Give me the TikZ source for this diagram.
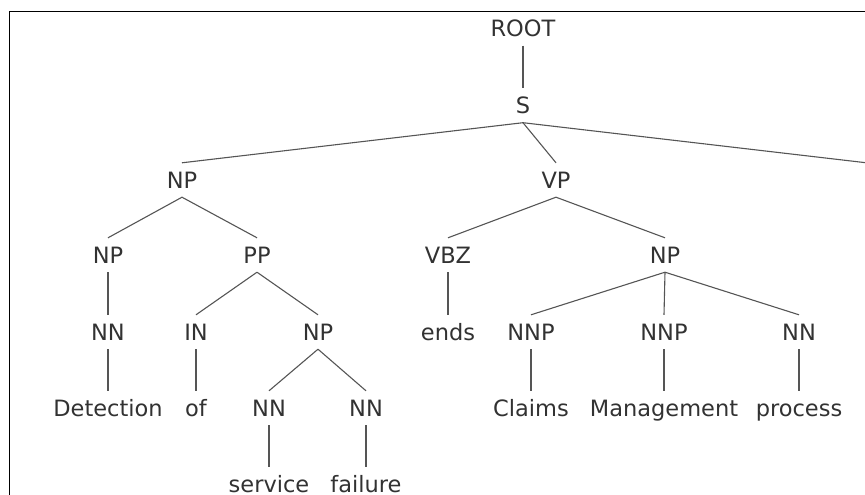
\documentclass[tikz,border=0pt]{standalone}
\usepackage{fontspec}
\setmainfont{DejaVu Sans}
\definecolor{txt}{RGB}{50,50,50}
\definecolor{edge}{RGB}{85,85,85}
\begin{document}
\begin{tikzpicture}[x=1pt,y=-1pt,
  tn/.style={font=\fontsize{22.5}{26}\selectfont, text=txt, text height=16.8pt, text depth=0pt,
    inner xsep=0pt, inner ysep=8.6pt, anchor=center},
  br/.style={draw=edge, line width=1.1pt}]
\path[use as bounding box] (0,0) rectangle (865,495);
\clip (0,0) rectangle (865,495);
\draw[line width=1.2pt, black] (9.3,495) -- (9.3,11.5) -- (866,11.5);
% nodes
\node[tn] (root) at (523,28.5) {ROOT};
\node[tn] (s) at (523,105.5) {S};
\node[tn] (np1) at (182,180) {NP};
\node[tn] (vp) at (556,180) {VP};
\node[tn] (p1) at (866.5,180) {.};
\node[tn] (np2) at (108,255) {NP};
\node[tn] (pp) at (257,255) {PP};
\node[tn] (vbz) at (448,255) {VBZ};
\node[tn] (np3) at (665,255) {NP};
\node[tn] (p2) at (866.5,255) {.};
\node[tn] (nn1) at (108,332) {NN};
\node[tn] (in) at (196,332) {IN};
\node[tn] (np4) at (318,332) {NP};
\node[tn] (ends) at (448,332) {ends};
\node[tn] (nnp1) at (531,332) {NNP};
\node[tn] (nnp2) at (664,332) {NNP};
\node[tn] (nn2) at (799,332) {NN};
\node[tn] (det) at (108,408) {Detection};
\node[tn] (of) at (196,408) {of};
\node[tn] (nn3) at (269,408) {NN};
\node[tn] (nn4) at (366,408) {NN};
\node[tn] (claims) at (531,408) {Claims};
\node[tn] (mgmt) at (664,408) {Management};
\node[tn] (proc) at (799,408) {process};
\node[tn] (serv) at (269,484) {service};
\node[tn] (fail) at (366,484) {failure};
% edges
\draw[br] (root.south) -- (s.north);
\draw[br] (s.south) -- (np1.north);
\draw[br] (s.south) -- (vp.north);
\draw[br] (s.south) -- (p1.north);
\draw[br] (p1.south) -- (p2.north);
\draw[br] (np1.south) -- (np2.north);
\draw[br] (np1.south) -- (pp.north);
\draw[br] (vp.south) -- (vbz.north);
\draw[br] (vp.south) -- (np3.north);
\draw[br] (np2.south) -- (nn1.north);
\draw[br] (pp.south) -- (in.north);
\draw[br] (pp.south) -- (np4.north);
\draw[br] (vbz.south) -- (ends.north);
\draw[br] (np3.south) -- (nnp1.north);
\draw[br] (np3.south) -- (nnp2.north);
\draw[br] (np3.south) -- (nn2.north);
\draw[br] (nn1.south) -- (det.north);
\draw[br] (in.south) -- (of.north);
\draw[br] (np4.south) -- (nn3.north);
\draw[br] (np4.south) -- (nn4.north);
\draw[br] (nnp1.south) -- (claims.north);
\draw[br] (nnp2.south) -- (mgmt.north);
\draw[br] (nn2.south) -- (proc.north);
\draw[br] (nn3.south) -- (serv.north);
\draw[br] (nn4.south) -- (fail.north);
\end{tikzpicture}
\end{document}
